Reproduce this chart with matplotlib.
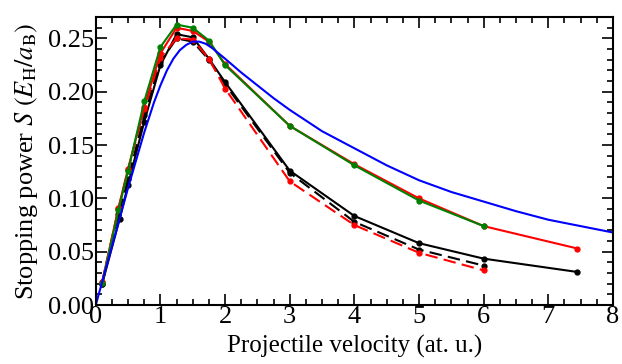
import matplotlib
matplotlib.use('Agg')
import matplotlib.pyplot as plt
from matplotlib.ticker import MultipleLocator

# values
# blue smooth curve (theory)
v_blue = [0, 0.25, 0.5, 0.75, 0.9, 1.0, 1.1, 1.2, 1.3, 1.4, 1.5, 1.6, 1.7, 1.8, 1.9, 2.0,
          2.25, 2.5, 2.75, 3.0, 3.5, 4.0, 4.5, 5.0, 5.5, 6.0, 6.5, 7.0, 7.5, 8.0]
s_blue = [0, 0.055, 0.110, 0.162, 0.190, 0.206, 0.220, 0.231, 0.239, 0.244, 0.247, 0.247,
          0.245, 0.241, 0.236, 0.231, 0.218, 0.206, 0.194, 0.183, 0.163, 0.147, 0.131,
          0.117, 0.106, 0.097, 0.088, 0.080, 0.074, 0.068]

# green solid
v_green = [0.1, 0.35, 0.5, 0.75, 1.0, 1.25, 1.5, 1.75, 2.0, 3.0, 4.0, 5.0, 6.0]
s_green = [0.021, 0.089, 0.126, 0.191, 0.242, 0.263, 0.260, 0.248, 0.225, 0.168, 0.131, 0.098, 0.074]

# red solid
v_red = [0.1, 0.35, 0.5, 0.75, 1.0, 1.25, 1.5, 1.75, 2.0, 3.0, 4.0, 5.0, 6.0, 7.45]
s_red = [0.022, 0.091, 0.128, 0.186, 0.236, 0.260, 0.257, 0.247, 0.226, 0.168, 0.132, 0.100, 0.074, 0.053]

# black solid
v_blk = [0.1, 0.37, 0.5, 0.75, 1.0, 1.25, 1.5, 1.75, 2.0, 3.0, 4.0, 5.0, 6.0, 7.45]
s_blk = [0.020, 0.081, 0.113, 0.172, 0.225, 0.254, 0.251, 0.231, 0.209, 0.126, 0.0835, 0.058, 0.0435, 0.031]

# black dashed
v_blkd = [0.1, 0.35, 0.5, 0.75, 1.0, 1.25, 1.5, 1.75, 2.0, 3.0, 4.0, 5.0, 6.0]
s_blkd = [0.020, 0.085, 0.118, 0.178, 0.228, 0.250, 0.247, 0.230, 0.207, 0.124, 0.078, 0.052, 0.037]

# red dashed
v_redd = [0.1, 0.35, 0.5, 0.75, 1.0, 1.25, 1.5, 1.75, 2.0, 3.0, 4.0, 5.0, 6.0]
s_redd = [0.022, 0.090, 0.127, 0.184, 0.232, 0.250, 0.249, 0.231, 0.203, 0.116, 0.075, 0.049, 0.0325]

plt.rcParams['font.family'] = 'Liberation Serif'
plt.rcParams['mathtext.fontset'] = 'stix'

fig = plt.figure(figsize=(6.22, 3.64), dpi=100)
ax = fig.add_axes([0.154, 0.162, 0.8315, 0.791])

ax.plot(v_blk, s_blk, color='black', lw=1.5, marker='o', ms=3.5)
ax.plot(v_blkd, s_blkd, color='black', lw=1.5, ls=(0, (6, 3)), marker='o', ms=3.5)
ax.plot(v_redd, s_redd, color='red', lw=1.5, ls=(0, (6, 3)), marker='o', ms=3.5)
ax.plot(v_red, s_red, color='red', lw=1.5, marker='o', ms=3.5)
ax.plot(v_green, s_green, color='green', lw=1.5, marker='o', ms=3.5)
ax.plot(v_blue, s_blue, color='blue', lw=1.5)

ax.set_xlim(0, 8)
ax.set_ylim(0, 0.27)
ax.xaxis.set_major_locator(MultipleLocator(1))
ax.xaxis.set_minor_locator(MultipleLocator(0.25))
ax.yaxis.set_major_locator(MultipleLocator(0.05))
ax.yaxis.set_minor_locator(MultipleLocator(0.01))
ax.yaxis.set_major_formatter(plt.FormatStrFormatter('%.2f'))
ax.tick_params(which='both', direction='in', top=True, right=True, labelsize=19, width=1.2)
ax.tick_params(which='major', length=8, pad=1)
ax.tick_params(which='minor', length=4)
for sp in ax.spines.values():
    sp.set_linewidth(1.5)

ax.set_xlabel('Projectile velocity (at. u.)', fontsize=18, labelpad=5)
ax.set_ylabel(r'Stopping power $S$ $(E_\mathrm{H}/a_\mathrm{B})$', fontsize=19, labelpad=6)

fig.savefig('out.png', dpi=100)
